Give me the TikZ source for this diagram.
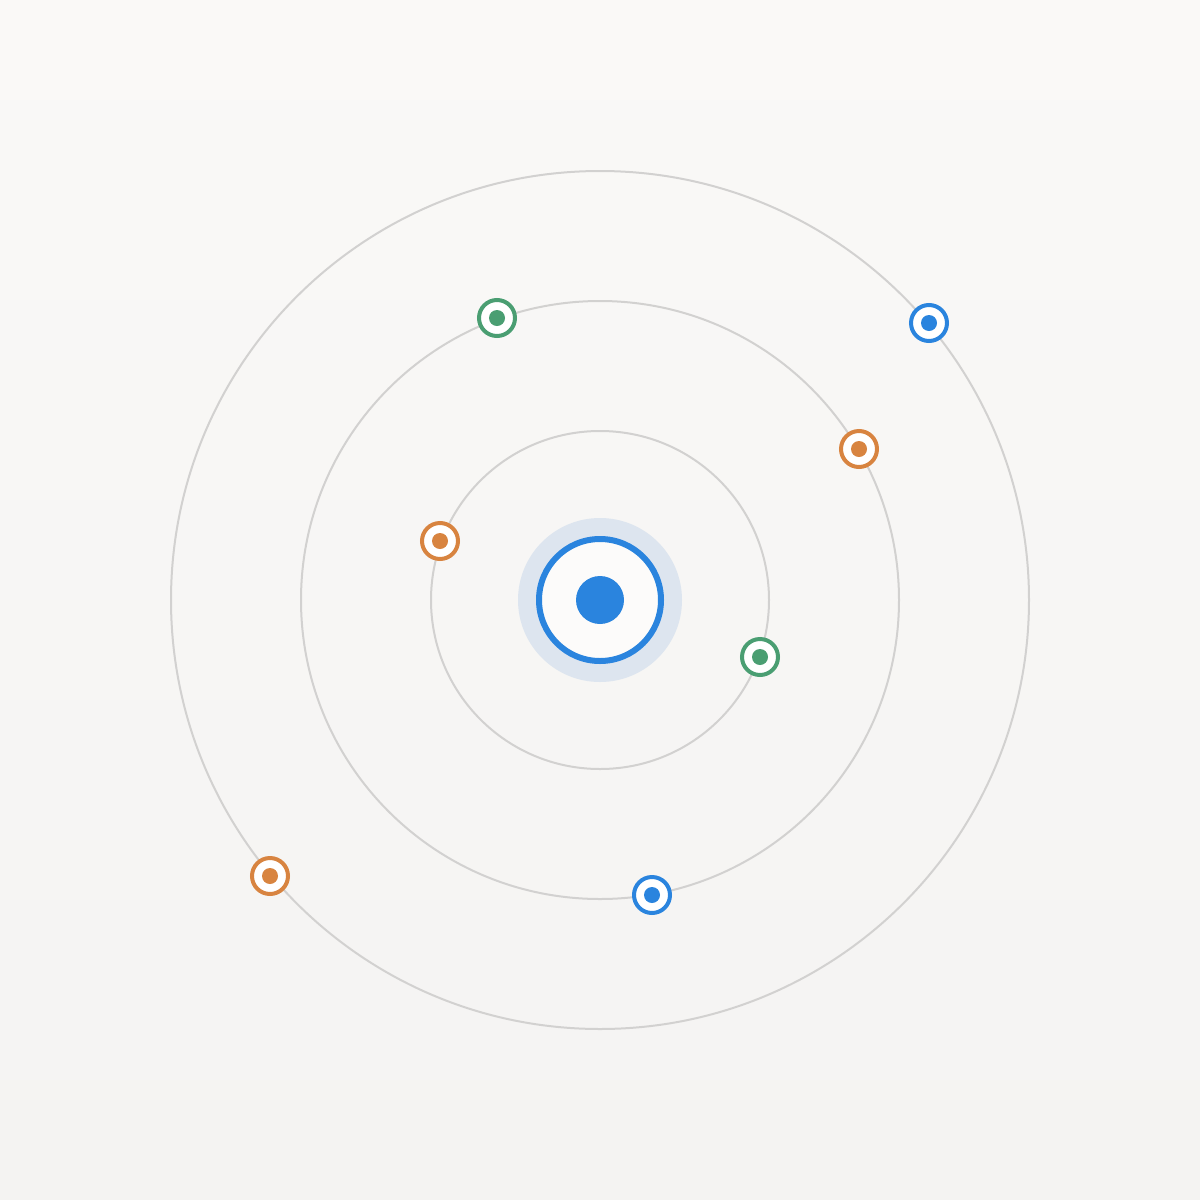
\documentclass[tikz,border=0pt]{standalone}
\definecolor{bgtop}{HTML}{FAF9F7}
\definecolor{bgbot}{HTML}{F4F3F2}
\definecolor{orbitgrey}{HTML}{D2D1D0}
\definecolor{halo}{HTML}{DDE5EF}
\definecolor{cblue}{HTML}{2A84DE}
\definecolor{cgreen}{HTML}{4A9E72}
\definecolor{corange}{HTML}{D88440}
\definecolor{cwhite}{HTML}{FCFBFA}
\tikzset{
  orbit/.style={draw=orbitgrey, line width=2pt},
  sat/.style={circle, draw=#1, line width=4pt, fill=white, minimum size=36pt, inner sep=0pt},
}
\newcommand{\satdot}[2]{\fill[#2] (#1) circle (8pt);}
\begin{document}
\begin{tikzpicture}[x=1pt,y=-1pt]
\useasboundingbox (0,0) rectangle (1200,1200);
\shade[top color=bgtop, bottom color=bgbot] (0,0) rectangle (1200,1200);
\coordinate (c) at (600,600);
\draw[orbit] (c) circle (169pt);
\draw[orbit] (c) circle (299pt);
\draw[orbit] (c) circle (429pt);
% hub
\fill[halo] (c) circle (82pt);
\node[circle, draw=cblue, line width=6pt, fill=cwhite, minimum size=122pt, inner sep=0pt] (hub) at (c) {};
\fill[cblue] (hub.center) circle (24pt);
% satellites
\node[sat=cgreen] (g1) at (497,318) {}; \satdot{g1}{cgreen}
\node[sat=cblue] (b1) at (929,323) {}; \satdot{b1}{cblue}
\node[sat=corange] (o1) at (859,449) {}; \satdot{o1}{corange}
\node[sat=corange] (o2) at (440,541) {}; \satdot{o2}{corange}
\node[sat=cgreen] (g2) at (760,657) {}; \satdot{g2}{cgreen}
\node[sat=corange] (o3) at (270,876) {}; \satdot{o3}{corange}
\node[sat=cblue] (b2) at (652,895) {}; \satdot{b2}{cblue}
\end{tikzpicture}
\end{document}
